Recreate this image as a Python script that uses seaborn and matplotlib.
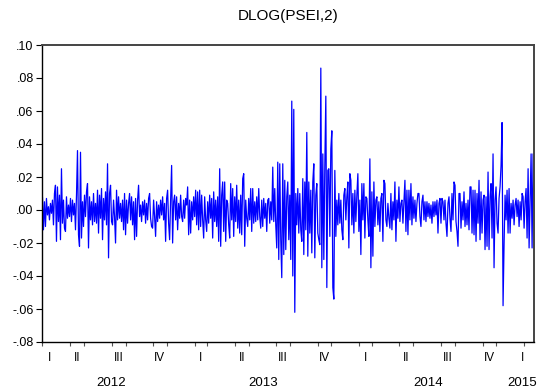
import numpy as np
import pandas as pd
import matplotlib
matplotlib.use('Agg')
import matplotlib.pyplot as plt
import matplotlib.dates as mdates
from matplotlib.ticker import FixedLocator, FuncFormatter
import seaborn as sns

# DLOG(PSEI,2), in thousandths
d_2012a = [8, -12, 5, -10, 7, -3, 2, -6, 4, -2, 6, -9, 10, 15, -19, 14, -7, 9, -18, 25,
           -8, 6, -11, -13, 8, -5, 3, -4, 7, -7, 6, -3, 4, -12, 9, 36, -15, -22, 35, -17,
           5, -10, 9, -4, 11, 16, -23, 8, -6, 5, -9, 10, -7, 4, -8, 12, -14, 9, -5, 13,
           -18, 7, -6, 11, -9, 28, -29, 10, 15, -7, -9, 6, -4, -20, 12, -6, 8, -5, 4, -7,
           6, -12]
d_2012b = [10, -15, 6, -8, 4, 10, -6, 8, -9, 5, -18, 7, -16, 6, 15, -4, 3, -7, 5, -3,
           6, -8, 4, -6, 7, 10, -5, -10, -11, 6, -4, -16, 5, -7, 3, -5, 6, -3, 8, -6,
           4, -19, 7, 12, -8, -18, 6, 27, -20, 5, 9, -6, 8, -12, 4, -5, 9, -4, -7, 6,
           -5, 7, 3, 14, -15, 6, -14, 5, -6, 8, -4, 12, -9, 11, -12, 12, -10, 9, -6, -17]
d_2013a = [8, -6, -13, 5, -8, 9, -5, 7, -17, 11, -7, 6, -10, 8, -19, 25, -22, 9, 17, -13,
           17, -19, 6, 4, -9, -17, 16, -6, 13, -16, 8, -7, 15, -11, 6, -14, 9, -15, 19, 22,
           -22, 6, -5, -10, 7, -6, 13, -13, 13, -8, 5, -7, 8, -6, 13, -4, -11, 6, -10, 7,
           -5, 4, -13, 6, 7, -8, 5, -6, 26, -7, 13, -9, -23, 29, -30, 28, -18, -41, 28, -27]
d_2013b = [18, -24, 8, 17, -18, 9, -30, 66, -40, 61, -62, 10, -9, 13, -14, 10, -12, -19, 19, -27,
           17, -12, 47, -28, 17, -14, 12, -26, 17, 28, -29, 9, 16, -14, -18, -21, 86, -35, 34, -30,
           27, 69, -47, 24, 25, -16, 37, 48, -47, -54, 24, -16, 6, -9, 10, -8, 6, -12, -18, 9,
           13, -6, 8, 17, -23, 22, 18, -9, 10, -14, 12, -7, 9, 22, -13, 6, -27, 16, -6, 16]
d_2014a = [-17, 8, 7, -6, -16, 31, -35, 11, -28, 17, -10, 6, 8, -9, 5, -13, 7, 10, -19, 18,
           16, -6, -10, 4, -5, -11, 10, -12, 5, -6, 17, -19, 6, -5, 14, -7, 4, 6, -8, 5,
           18, -13, 12, -15, 12, -6, 16, -9, 8, -5, 6, -7, 4, 10, 10, -4, -10, 5, 9, -6,
           5, -7, 5, -4, 4, -5, 3, -8, 5, -4, 5, -3, 6, -14, 4, 7, -8, 7, 5, -6]
d_2014b = [6, -8, -16, 4, 8, -5, -13, 10, -6, 17, 15, -7, -13, -22, 10, 10, -11, 5, -6, 11,
           -10, 4, -9, 6, -12, 14, 14, -14, 12, -15, 12, -19, 10, -8, 18, -18, 11, -14, 6, 9,
           -24, 8, -22, 23, -24, 8, 16, -17, 34, -35, 6, 14, -8, -14, 7, 14, 27, 53, -58, -21,
           9, -6, 12, -14, 13, -14, 4, -5, 6, -9, 3, 7, -4, 6, -10, 5, -6, 10, 8, -11,
           5, 13, -17, 25, -23, 7, 34, -23, 34]

first_day = '2012-03-01'
last_day = '2015-02-21'
x_min, x_max = pd.Timestamp('2012-02-29'), pd.Timestamp('2015-02-23')
y_ticks = [-0.08, -0.06, -0.04, -0.02, 0.00, 0.02, 0.04, 0.06, 0.08, 0.10]
quarter_names = ['I', 'II', 'III', 'IV']
years = [2012, 2013, 2014, 2015]

vals = np.array(d_2012a + d_2012b + d_2013a + d_2013b + d_2014a + d_2014b) / 1000.0
dates = pd.date_range(first_day, last_day, periods=len(vals))
df = pd.DataFrame({'date': dates, 'dlog': vals})

sns.set_theme(style='white')
plt.rcParams['font.family'] = ['Liberation Sans', 'DejaVu Sans']
plt.rcParams['text.color'] = 'black'
plt.rcParams['xtick.color'] = 'black'
plt.rcParams['ytick.color'] = 'black'

fig = plt.figure(figsize=(5.39, 3.90), dpi=100)
ax = fig.add_axes([42 / 539, 1 - 342 / 390, 492 / 539, 297 / 390])

sns.lineplot(data=df, x='date', y='dlog', color='#0000ff', linewidth=0.9, ax=ax)

ax.set_xlim(x_min, x_max)
ax.set_ylim(-0.08, 0.10)
ax.yaxis.set_major_locator(FixedLocator(y_ticks))
ax.yaxis.set_major_formatter(FuncFormatter(
    lambda v, p: ('-' if v < -1e-9 else '') + f'{abs(v):.2f}'.lstrip('0')))

ax.xaxis.set_major_locator(mdates.MonthLocator(bymonth=[1, 4, 7, 10]))
ax.xaxis.set_minor_locator(mdates.MonthLocator())
ax.xaxis.set_major_formatter(plt.NullFormatter())
ax.tick_params(axis='x', which='major', direction='out', length=5, width=0.8, color='black')
ax.tick_params(axis='x', which='minor', direction='out', length=3, width=0.8, color='#555555', bottom=True)
ax.tick_params(axis='y', direction='out', length=4, width=0.8, color='black',
               labelsize=9, labelcolor='black', pad=2, left=True)
ax.set_xlabel('')
ax.set_ylabel('')

for side in ['left', 'bottom']:
    ax.spines[side].set_color('black')
    ax.spines[side].set_linewidth(1.0)
for side in ['top', 'right']:
    ax.spines[side].set_color('#444444')
    ax.spines[side].set_linewidth(1.4)

# quarter and year labels centred on the visible part of each period
xt = ax.get_xaxis_transform()
for yr in years:
    for q in range(4):
        qs = pd.Timestamp(year=yr, month=3 * q + 1, day=1)
        qe = qs + pd.offsets.QuarterBegin(startingMonth=1)
        a, b = max(qs, x_min), min(qe, x_max)
        if a >= b:
            continue
        mid = mdates.date2num(a + (b - a) / 2)
        ax.annotate(quarter_names[q], xy=(mid, 0), xycoords=xt, xytext=(0, -16 * 0.72),
                    textcoords='offset points', ha='center', va='center', fontsize=8.5,
                    color='black')
    ys, ye = pd.Timestamp(year=yr, month=1, day=1), pd.Timestamp(year=yr + 1, month=1, day=1)
    a, b = max(ys, x_min), min(ye, x_max)
    mid = mdates.date2num(a + (b - a) / 2)
    ax.annotate(str(yr), xy=(mid, 0), xycoords=xt, xytext=(0, -41 * 0.72),
                textcoords='offset points', ha='center', va='center', fontsize=9.5,
                color='black', annotation_clip=False)

fig.text(288 / 539, 1 - 16 / 390, 'DLOG(PSEI,2)', ha='center', va='center', fontsize=11,
         color='black')

fig.savefig('out.png', dpi=100)
